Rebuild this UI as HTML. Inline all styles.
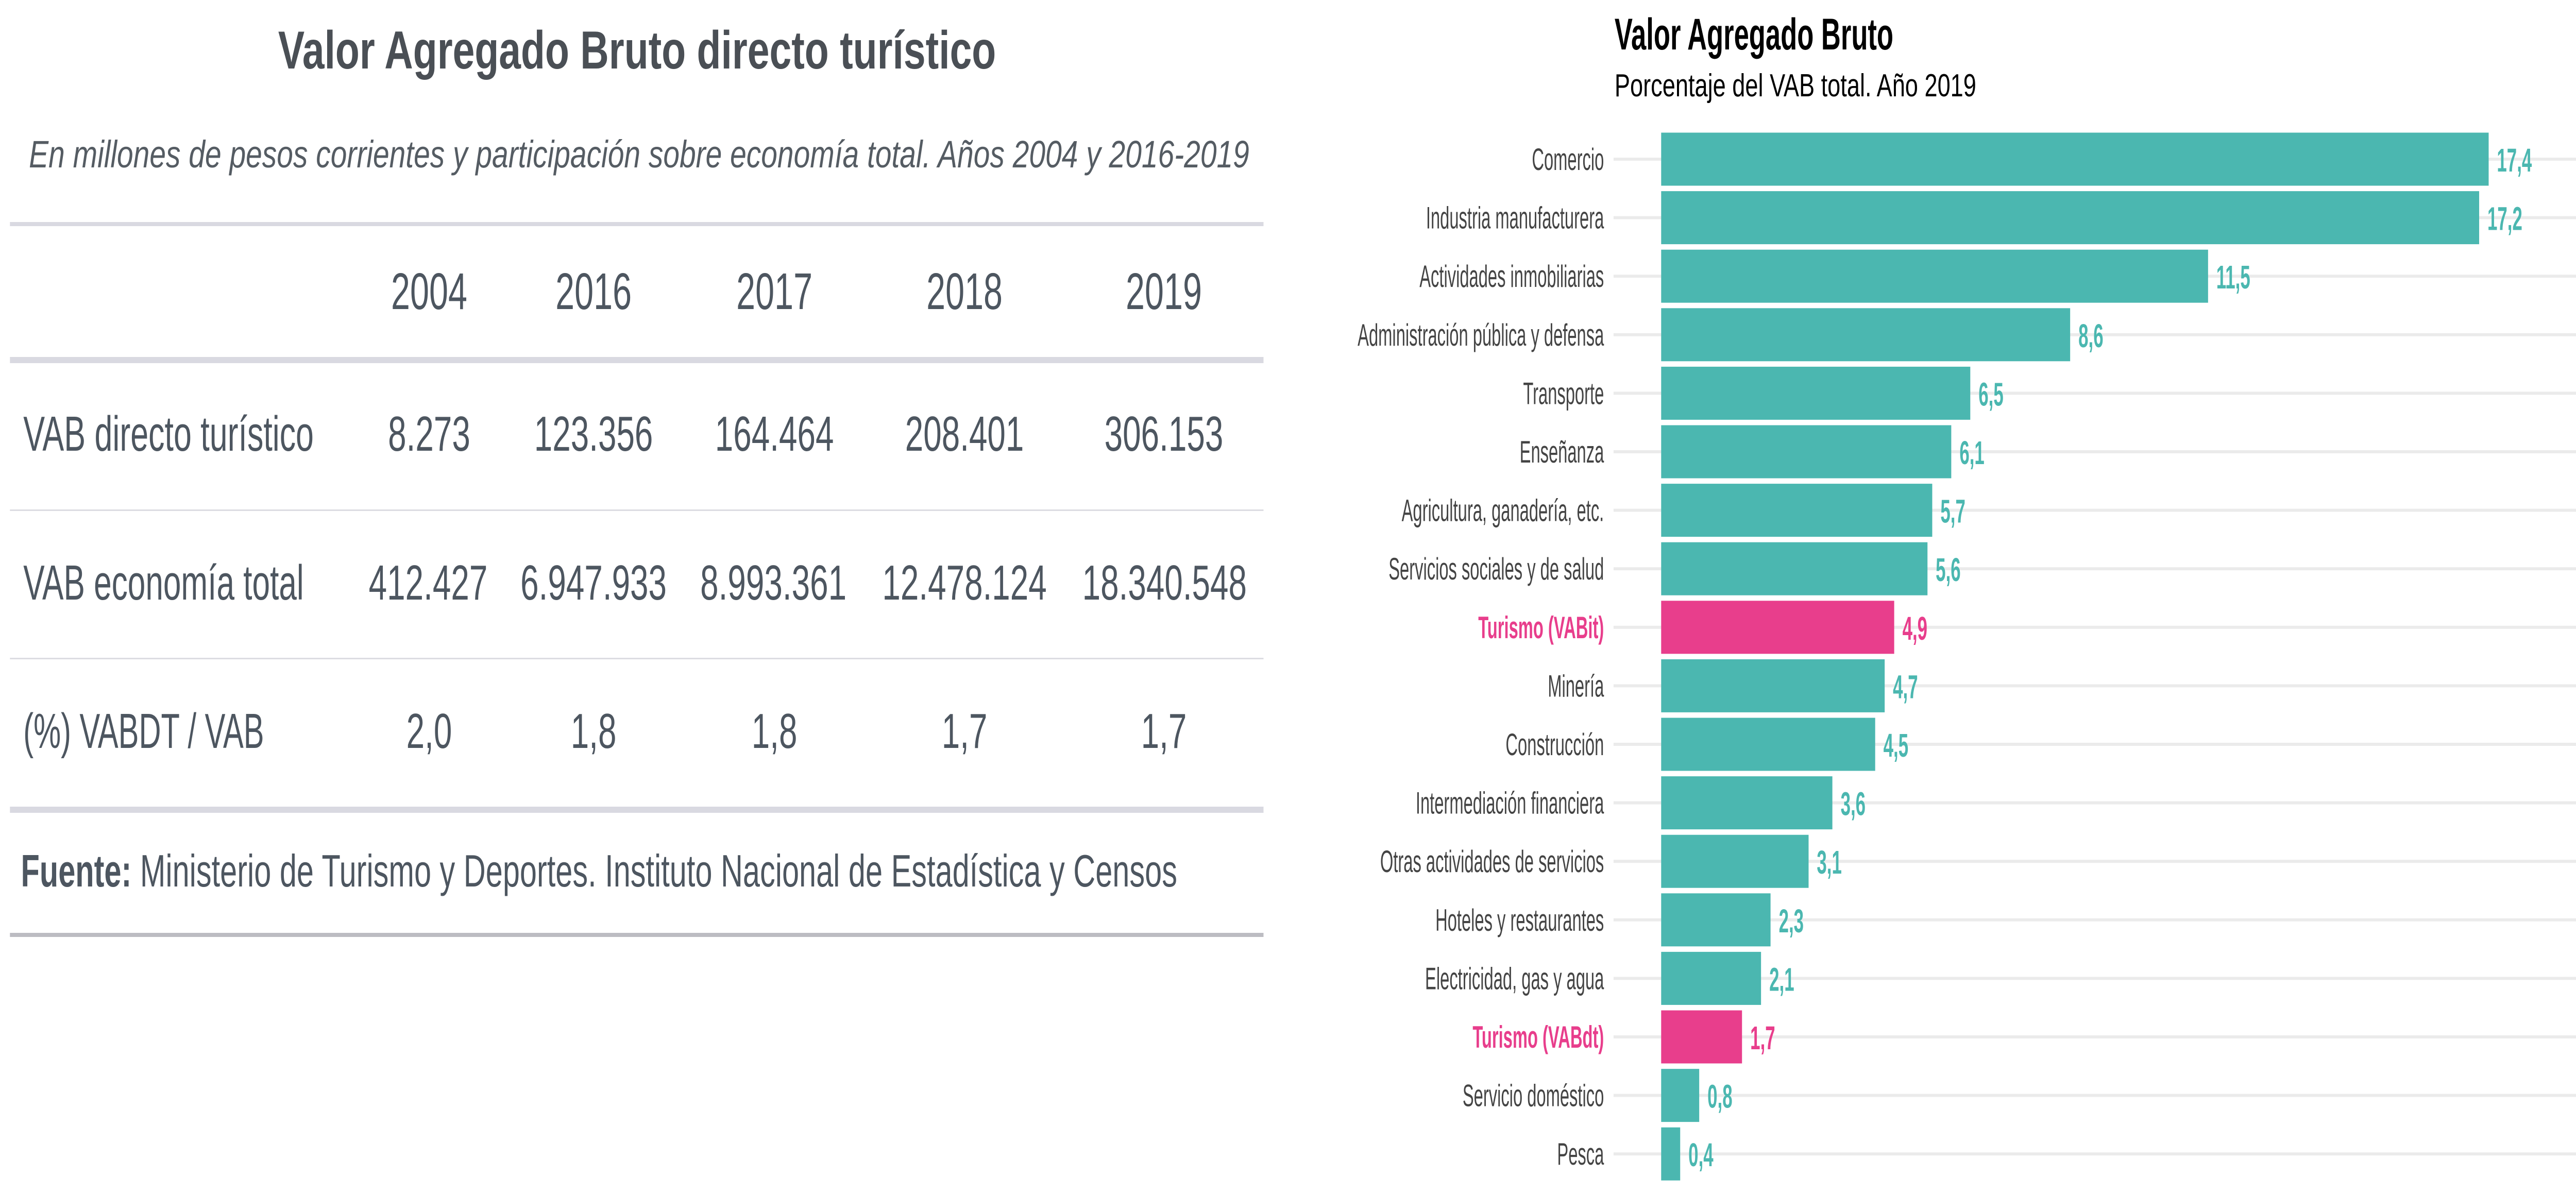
<!DOCTYPE html>
<html><head><meta charset="utf-8"><style>
html,body{margin:0;padding:0;background:#fff;overflow:hidden;width:100%;height:100%;}
svg{display:block;width:100vw;height:100vh;}
</style></head><body>
<svg id="root" viewBox="0 0 7521 2318" preserveAspectRatio="none" xmlns="http://www.w3.org/2000/svg">
<g id="table" font-family="Liberation Sans, sans-serif" fill="#4d5660">
  <text x="1860" y="133" text-anchor="middle" font-size="104" font-weight="bold" textLength="2096" lengthAdjust="spacingAndGlyphs" fill="#4a4f55">Valor Agregado Bruto directo turístico</text>
  <text x="1866" y="325" text-anchor="middle" font-size="74" font-style="italic" textLength="3563" lengthAdjust="spacingAndGlyphs" fill="#555c63">En millones de pesos corrientes y participación sobre economía total. Años 2004 y 2016-2019</text>
  <rect x="29" y="431" width="3660" height="8" fill="#d9d9e1"/>
  <rect x="29" y="693" width="3660" height="12" fill="#d9d9e1"/>
  <rect x="29" y="989" width="3660" height="3" fill="#dcdce2"/>
  <rect x="29" y="1277" width="3660" height="3" fill="#dcdce2"/>
  <rect x="29" y="1566" width="3660" height="12" fill="#d9d9e1"/>
  <rect x="29" y="1811" width="3660" height="8" fill="#bcbcc2"/>
  <g font-size="100">
    <text x="1253" y="600" text-anchor="middle">2004</text>
    <text x="1733" y="600" text-anchor="middle">2016</text>
    <text x="2261" y="600" text-anchor="middle">2017</text>
    <text x="2816" y="600" text-anchor="middle">2018</text>
    <text x="3398" y="600" text-anchor="middle">2019</text>
  </g>
  <g font-size="96">
    <text x="68" y="875" textLength="848" lengthAdjust="spacingAndGlyphs">VAB directo turístico</text>
    <text x="1253" y="875" text-anchor="middle">8.273</text>
    <text x="1733" y="875" text-anchor="middle">123.356</text>
    <text x="2261" y="875" text-anchor="middle">164.464</text>
    <text x="2816" y="875" text-anchor="middle">208.401</text>
    <text x="3398" y="875" text-anchor="middle">306.153</text>
    <text x="68" y="1164" textLength="819" lengthAdjust="spacingAndGlyphs">VAB economía total</text>
    <text x="1250" y="1164" text-anchor="middle">412.427</text>
    <text x="1733" y="1164" text-anchor="middle">6.947.933</text>
    <text x="2258" y="1164" text-anchor="middle">8.993.361</text>
    <text x="2816" y="1164" text-anchor="middle">12.478.124</text>
    <text x="3400" y="1164" text-anchor="middle">18.340.548</text>
    <text x="68" y="1452" textLength="703" lengthAdjust="spacingAndGlyphs">(%) VABDT / VAB</text>
    <text x="1253" y="1452" text-anchor="middle">2,0</text>
    <text x="1733" y="1452" text-anchor="middle">1,8</text>
    <text x="2261" y="1452" text-anchor="middle">1,8</text>
    <text x="2816" y="1452" text-anchor="middle">1,7</text>
    <text x="3398" y="1452" text-anchor="middle">1,7</text>
  </g>
  <text x="61" y="1721" font-size="88" textLength="3376" lengthAdjust="spacingAndGlyphs"><tspan font-weight="bold">Fuente:</tspan> Ministerio de Turismo y Deportes. Instituto Nacional de Estadística y Censos</text>
</g>
<g id="chart" font-family="Liberation Sans, sans-serif">
  <text x="4714" y="96" font-size="86" font-weight="bold" fill="#000" textLength="814" lengthAdjust="spacingAndGlyphs">Valor Agregado Bruto</text>
  <text x="4714" y="187" font-size="62" fill="#000" textLength="1056" lengthAdjust="spacingAndGlyphs">Porcentaje del VAB total. Año 2019</text>
  <g id="grid"></g><g id="bars"></g><g id="labels"></g>
</g>
</svg>
<script>
const categories = ["Comercio","Industria manufacturera","Actividades inmobiliarias","Administración pública y defensa","Transporte","Enseñanza","Agricultura, ganadería, etc.","Servicios sociales y de salud","Turismo (VABit)","Minería","Construcción","Intermediación financiera","Otras actividades de servicios","Hoteles y restaurantes","Electricidad, gas y agua","Turismo (VABdt)","Servicio doméstico","Pesca"];
const values = [17.4,17.2,11.5,8.6,6.5,6.1,5.7,5.6,4.9,4.7,4.5,3.6,3.1,2.3,2.1,1.7,0.8,0.4];
const highlighted = ["Turismo (VABit)","Turismo (VABdt)"];

const NS = "http://www.w3.org/2000/svg";
const x0 = 4850, pxPerUnit = 138.85;
const xScale = v => x0 + v * pxPerUnit;
const yTop = 309, step = 113.6, barH = 103;
const yScale = i => yTop + i * step;
const SX = 0.82;
const teal = "#4bb7b0", pink = "#e83e8c";
const grid = document.getElementById('grid');
const bars = document.getElementById('bars');
const labels = document.getElementById('labels');
function mk(tag, attrs){ const e=document.createElementNS(NS,tag); for(const k in attrs) e.setAttribute(k,attrs[k]); return e; }
categories.forEach((c,i)=>{
  const cy = yScale(i);
  const hl = highlighted.includes(c);
  const g = mk('rect',{x:4711,y:cy-3,width:7521-4711,height:6,fill:'#ebebeb'});
  
  
  grid.appendChild(g);
  const b = mk('rect',{x:x0,y:cy-barH/2,width:xScale(values[i])-x0,height:barH,fill:hl?pink:teal});
  
  
  bars.appendChild(b);
  const t = mk('text',{x:4683/SX,y:cy+21,'text-anchor':'end','font-size':60,fill:hl?pink:'#444',transform:`scale(${SX},1)`});
  if(hl) t.setAttribute('font-weight','bold');
  t.textContent = c;
  
  
  labels.appendChild(t);
  const v = mk('text',{x:(xScale(values[i])+24)/SX,y:cy+24,'font-size':64,'font-weight':'bold',fill:hl?pink:teal,transform:`scale(${SX},1)`});
  v.textContent = values[i].toFixed(1).replace('.',',');
  
  
  labels.appendChild(v);
});
</script>
</body></html>
